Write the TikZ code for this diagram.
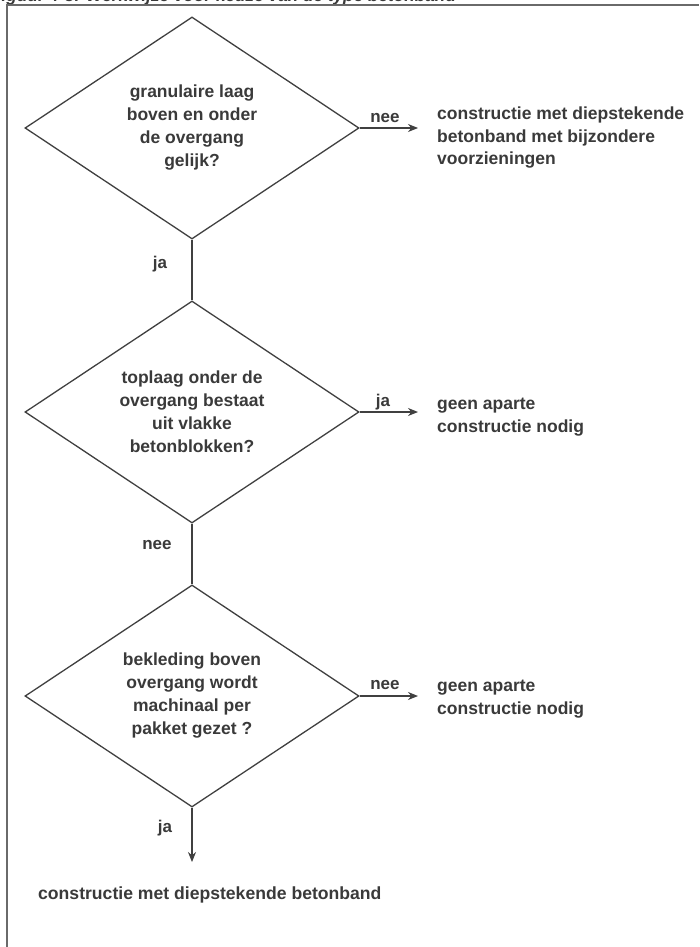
\documentclass[tikz,border=0pt]{standalone}
\usepackage{fontspec}
\setmainfont{Liberation Sans}
\usetikzlibrary{shapes.geometric,arrows.meta}
\definecolor{ink}{HTML}{3A3A3A}
\definecolor{edgec}{HTML}{404040}
\definecolor{framec}{HTML}{6A6A6A}
\begin{document}
\begin{tikzpicture}[x=1pt,y=-1pt,
  decision/.style={diamond, draw=edgec, line width=1.3pt, minimum width=334pt, minimum height=222pt,
    inner sep=0pt, aspect=1.5, align=center, text=ink, font=\bfseries\fontsize{17.5}{23}\selectfont},
  lbl/.style={font=\bfseries\fontsize{17}{20}\selectfont, text=ink, inner sep=0pt},
  result/.style={font=\bfseries\fontsize{17.5}{22.5}\selectfont, text=ink, align=left, anchor=north west, inner sep=0pt},
  flow/.style={draw=edgec, line width=1.3pt, -{Stealth[length=10pt,width=8pt]}},
  link/.style={draw=edgec, line width=1.3pt}]
\useasboundingbox (0,0) rectangle (699,947);
\fill[white] (0,0) rectangle (699,947);
% frame and cut-off caption
\node[anchor=base west, inner sep=0pt, text=ink, font=\bfseries\itshape\fontsize{17.2}{17.2}\selectfont] (title) at (-9,2) {Figuur 4-3: Werkwijze voor keuze van de type betonband};
\draw[framec, line width=2pt] (7,947) -- (7,5) -- (699,5);
% decisions
\node[decision] (d1) at (192,128) {granulaire laag\\boven en onder\\de overgang\\gelijk?};
\node[decision] (d2) at (192,412) {toplaag onder de\\overgang bestaat\\uit vlakke\\betonblokken?};
\node[decision] (d3) at (192,696) {bekleding boven\\overgang wordt\\machinaal per\\pakket gezet ?};
% arrow ends
\coordinate (e1) at (418,128);
\coordinate (e2) at (418,412);
\coordinate (e3) at (418,696);
\coordinate (e4) at (192,862);
% results
\node[result] (r1) at (437,107) {constructie met diepstekende\\betonband met bijzondere\\voorzieningen};
\node[result] (r2) at (437,398) {geen aparte\\constructie nodig};
\node[result] (r3) at (437,680) {geen aparte\\constructie nodig};
\node[font=\bfseries\fontsize{17.6}{20}\selectfont, text=ink, inner sep=0pt, anchor=west] (r4) at (38,895) {constructie met diepstekende betonband};
% connectors
\draw[flow] (d1.east) -- (e1);
\draw[flow] (d2.east) -- (e2);
\draw[flow] (d3.east) -- (e3);
\draw[link] (d1.south) -- (d2.north);
\draw[link] (d2.south) -- (d3.north);
\draw[flow] (d3.south) -- (e4);
% labels
\node[lbl] (l1) at (385,118) {nee};
\node[lbl] (l2) at (160,264) {ja};
\node[lbl] (l3) at (383,402) {ja};
\node[lbl] (l4) at (157,545) {nee};
\node[lbl] (l5) at (385,685) {nee};
\node[lbl] (l6) at (165,828) {ja};
\end{tikzpicture}
\end{document}
